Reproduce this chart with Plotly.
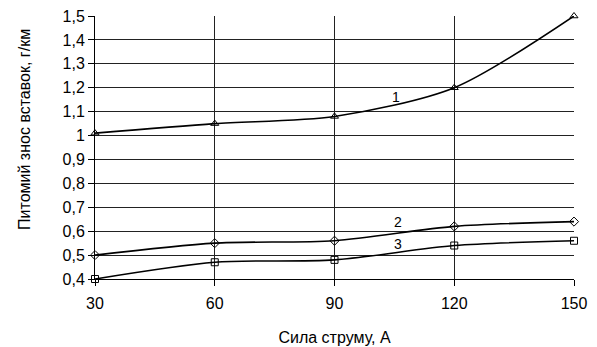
import plotly.graph_objects as go

x_vals = [30, 60, 90, 120, 150]
series1 = [1.01, 1.05, 1.08, 1.20, 1.50]
series2 = [0.50, 0.55, 0.56, 0.62, 0.64]
series3 = [0.40, 0.47, 0.48, 0.54, 0.56]
series_labels = ["1", "2", "3"]
label_x = [105.5, 106.0, 106.0]
label_y = [1.16, 0.64, 0.545]
y_tickvals = [0.4, 0.5, 0.6, 0.7, 0.8, 0.9, 1.0, 1.1, 1.2, 1.3, 1.4, 1.5]
y_ticktext = ["0,4", "0,5", "0,6", "0,7", "0,8", "0,9", "1", "1,1", "1,2", "1,3", "1,4", "1,5"]
x_tickvals = [30, 60, 90, 120, 150]
x_title = "Сила струму, А"
y_title = "Питомий знос вставок, г/км"

fig = go.Figure()
markers = ["triangle-up-open", "diamond-open", "square-open"]
for ys, m in zip([series1, series2, series3], markers):
    fig.add_trace(go.Scatter(
        x=x_vals, y=ys, mode="lines+markers",
        line=dict(color="black", width=1.6, shape="spline", smoothing=0.8),
        marker=dict(symbol=m, size=7, color="black", line=dict(width=1, color="black")),
        showlegend=False, cliponaxis=False, hoverinfo="skip"))

for t, lx, ly in zip(series_labels, label_x, label_y):
    fig.add_annotation(x=lx, y=ly, text=t, showarrow=False,
                       font=dict(size=14, color="black"), xanchor="center", yanchor="middle")

fig.add_annotation(xref="paper", yref="paper", x=-0.146, y=0.567, text=y_title,
                   textangle=-90, showarrow=False, font=dict(size=16, color="black"),
                   xanchor="center", yanchor="middle")

font_family = "Liberation Sans, Arial, sans-serif"
fig.update_layout(
    width=597, height=347,
    margin=dict(l=95, r=23, t=16, b=68, autoexpand=False),
    paper_bgcolor="white", plot_bgcolor="white",
    font=dict(family=font_family, size=16, color="black"),
    xaxis=dict(
        range=[30, 150], tickvals=x_tickvals, showgrid=True, gridcolor="#222222", gridwidth=1,
        showline=True, linecolor="black", linewidth=1, ticks="outside", ticklen=6,
        tickcolor="black", zeroline=False, mirror=False, ticklabelstandoff=4,
        automargin=False,
        title=dict(text=x_title, font=dict(size=16), standoff=20),
        tickfont=dict(size=16),
    ),
    yaxis=dict(
        range=[0.4, 1.5], tickvals=y_tickvals, ticktext=y_ticktext, showgrid=True,
        gridcolor="#222222", gridwidth=1, showline=True, linecolor="black", linewidth=1,
        ticks="outside", ticklen=6, tickcolor="black", zeroline=False, automargin=False,
        tickfont=dict(size=16),
    ),
)
fig.write_html("out.html", post_script="document.body.style.margin='0';",
               config={"displayModeBar": False})
